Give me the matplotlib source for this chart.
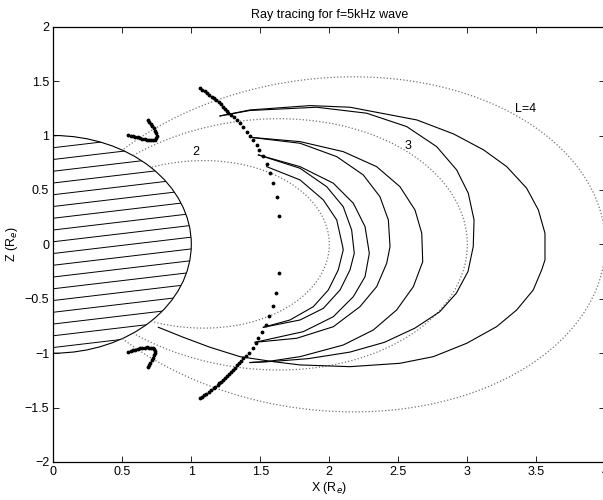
import numpy as np
import matplotlib.pyplot as plt
from matplotlib.patches import Wedge

plt.rcParams['font.family'] = ['Liberation Sans', 'DejaVu Sans']
plt.rcParams['font.size'] = 9

# L-shells drawn as dotted dipole field lines
L_values = [2, 3, 4]
L_labels = ['2', '3', 'L=4']
L_label_pos = [(1.03, 0.85), (2.57, 0.90), (3.42, 1.24)]

# ray paths (x, z in Earth radii)
ray1_x = [1.546, 1.788, 1.957, 2.054, 2.097, 2.101, 2.065, 1.993, 1.884, 1.715, 1.522]
ray1_z = [0.714, 0.592, 0.408, 0.224, -0.021, -0.051, -0.235, -0.419, -0.573, -0.695, -0.762]

ray2_x = [1.486, 1.788, 1.981, 2.101, 2.162, 2.181, 2.150, 2.078, 1.957, 1.788, 1.522]
ray2_z = [0.822, 0.699, 0.530, 0.346, 0.132, -0.082, -0.235, -0.419, -0.588, -0.695, -0.762]

ray3_x = [1.486, 1.788, 2.029, 2.174, 2.259, 2.290, 2.259, 2.174, 2.029, 1.812, 1.462]
ray3_z = [0.822, 0.714, 0.562, 0.378, 0.163, -0.082, -0.297, -0.481, -0.665, -0.802, -0.900]

ray4_x = [1.425, 1.788, 2.054, 2.246, 2.367, 2.428, 2.440, 2.416, 2.343, 2.222, 2.029, 1.764, 1.462]
ray4_z = [0.984, 0.929, 0.806, 0.638, 0.438, 0.224, -0.021, -0.174, -0.389, -0.573, -0.757, -0.863, -0.900]

ray5_x = [1.425, 1.788, 2.101, 2.343, 2.512, 2.621, 2.670, 2.677, 2.609, 2.488, 2.319, 2.101, 1.788, 1.546, 1.425]
ray5_z = [0.984, 0.944, 0.852, 0.714, 0.530, 0.316, 0.102, -0.159, -0.389, -0.603, -0.787, -0.925, -1.032, -1.078, -1.087]

ray6_x = [1.208, 1.425, 1.908, 2.271, 2.561, 2.778, 2.923, 3.007, 3.049, 3.043, 3.005, 2.920, 2.800, 2.620,
          2.400, 2.150, 1.850, 1.600, 1.425]
ray6_z = [1.180, 1.230, 1.260, 1.205, 1.082, 0.898, 0.684, 0.470, 0.224, -0.021, -0.250, -0.450, -0.620, -0.770,
          -0.900, -0.990, -1.050, -1.075, -1.085]

ray7_x = [1.208, 1.425, 1.860, 2.150, 2.635, 2.900, 3.118, 3.286, 3.430, 3.515, 3.563, 3.563, 3.539, 3.478,
          3.358, 3.213, 2.996, 2.754, 2.512, 2.150, 1.788, 1.594, 1.353, 1.136, 0.942, 0.761]
ray7_z = [1.180, 1.235, 1.275, 1.260, 1.143, 1.015, 0.868, 0.714, 0.516, 0.316, 0.102, -0.143, -0.235, -0.419,
          -0.603, -0.756, -0.909, -1.032, -1.093, -1.124, -1.108, -1.078, -1.032, -0.946, -0.854, -0.762]

rays = [(ray1_x, ray1_z), (ray2_x, ray2_z), (ray3_x, ray3_z), (ray4_x, ray4_z),
        (ray5_x, ray5_z), (ray6_x, ray6_z), (ray7_x, ray7_z)]

# wave front markers (dots)
front_x = [1.063, 1.080, 1.097, 1.114, 1.131, 1.148, 1.165, 1.182, 1.199, 1.216, 1.232, 1.245, 1.257, 1.268,
           1.287, 1.306, 1.329, 1.353, 1.377, 1.401, 1.425, 1.449, 1.474, 1.493, 1.517, 1.546, 1.570, 1.594,
           1.619, 1.638,
           1.636, 1.614, 1.590, 1.565, 1.539, 1.515, 1.486, 1.466, 1.444, 1.415, 1.396,
           1.377, 1.362, 1.347, 1.332, 1.318, 1.304, 1.290, 1.275, 1.261, 1.246, 1.232, 1.218, 1.204, 1.190,
           1.175, 1.161, 1.143, 1.125, 1.107, 1.089, 1.075, 1.063]
front_z = [1.435, 1.420, 1.405, 1.389, 1.374, 1.358, 1.341, 1.324, 1.305, 1.286, 1.266, 1.246, 1.225, 1.205,
           1.190, 1.174, 1.143, 1.113, 1.076, 1.036, 0.999, 0.960, 0.914, 0.868, 0.813, 0.736, 0.653, 0.562,
           0.438, 0.264,
           -0.266, -0.444, -0.563, -0.658, -0.741, -0.805, -0.863, -0.909, -0.955, -1.001, -1.024,
           -1.047, -1.068, -1.090, -1.111, -1.132, -1.154, -1.172, -1.191, -1.209, -1.228, -1.246, -1.261,
           -1.277, -1.292, -1.308, -1.323, -1.340, -1.356, -1.372, -1.388, -1.402, -1.415]

hook_top_x = [0.544, 0.560, 0.577, 0.594, 0.611, 0.627, 0.644, 0.661, 0.677, 0.692, 0.707, 0.722, 0.737,
              0.745, 0.749, 0.747, 0.740, 0.730, 0.718, 0.705, 0.695, 0.688]
hook_top_z = [1.005, 1.000, 0.994, 0.988, 0.982, 0.976, 0.970, 0.965, 0.960, 0.958, 0.957, 0.957, 0.960,
              0.975, 0.995, 1.021, 1.045, 1.068, 1.090, 1.110, 1.128, 1.143]
hook_bot_x = [0.544, 0.560, 0.577, 0.594, 0.611, 0.627, 0.644, 0.661, 0.677, 0.692, 0.707, 0.722, 0.733,
              0.738, 0.737, 0.731, 0.722, 0.712, 0.702, 0.694, 0.688]
hook_bot_z = [-0.986, -0.980, -0.975, -0.969, -0.963, -0.957, -0.951, -0.948, -0.947, -0.948, -0.950, -0.953,
              -0.962, -0.980, -1.000, -1.020, -1.042, -1.065, -1.088, -1.108, -1.124]

fig = plt.figure(figsize=(6.03, 5.0), dpi=100)
ax = fig.add_axes([0.0884, 0.076, 0.9154, 0.8706])

# Earth: hatched half disc
earth = Wedge((0, 0), 1.0, -90, 90, facecolor='white', edgecolor='black', linewidth=0.8, zorder=2)
ax.add_patch(earth)
hatch_x = np.array([0.0, 1.0])
for c in np.arange(-1.38, 1.0, 0.108):
    ln, = ax.plot(hatch_x, c + 0.15 * hatch_x, color='black', linewidth=0.7, zorder=3)
    ln.set_clip_path(earth)

# dipole field lines from the surface to the surface
for L, lab, pos in zip(L_values, L_labels, L_label_pos):
    lam0 = np.arccos(np.sqrt(1.0 / L))
    lam = np.linspace(-lam0, lam0, 300)
    ax.plot(L * np.cos(lam) ** 3, L * np.cos(lam) ** 2 * np.sin(lam), ':', color='0.45', linewidth=0.9)
    ax.text(pos[0], pos[1], lab, ha='center', va='center', fontsize=9)

for rx, rz in rays:
    ax.plot(rx, rz, color='black', linewidth=0.8)

ax.plot(front_x, front_z, '.', color='black', markersize=3.5)
ax.plot(hook_top_x, hook_top_z, '.', color='black', markersize=3.5)
ax.plot(hook_bot_x, hook_bot_z, '.', color='black', markersize=3.5)

ax.set_xlim(0, 4)
ax.set_ylim(-2, 2)
ax.set_xticks(np.arange(0, 4.01, 0.5))
ax.set_xticklabels(['0', '0.5', '1', '1.5', '2', '2.5', '3', '3.5', '4'])
ax.set_yticks(np.arange(-2, 2.01, 0.5))
ax.set_yticklabels(['\u22122', '\u22121.5', '\u22121', '\u22120.5', '0', '0.5', '1', '1.5', '2'])
ax.tick_params(direction='in', length=4, width=0.6, top=True, right=True, labelsize=9, pad=3)
for sp in ax.spines.values():
    sp.set_linewidth(0.9)
ax.set_xlabel('X (R$_e$)', fontsize=9, labelpad=1)
ax.set_ylabel('Z (R$_e$)', fontsize=9, labelpad=3)
ax.set_title('Ray tracing for f=5kHz wave', fontsize=9, pad=6)

fig.savefig('out.png', dpi=100)
